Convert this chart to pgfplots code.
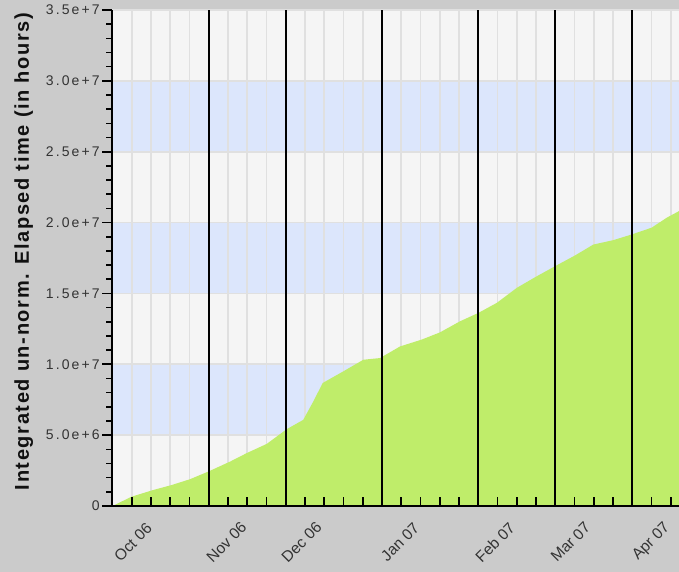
\documentclass[border=0pt]{standalone}
\usepackage{pgfplots}
\pgfplotsset{compat=1.18}
\usepackage{fontspec}
\setmainfont{Liberation Sans}
\newfontfamily\yticksfont[LetterSpace=15]{Liberation Sans}
\newfontfamily\xticksfont{Liberation Sans}
\newfontfamily\labfont[LetterSpace=8]{Liberation Sans}
\definecolor{outerbg}{RGB}{203,203,203}
\definecolor{plotbg}{RGB}{245,245,245}
\definecolor{band}{RGB}{220,230,252}
\definecolor{gridc}{RGB}{224,224,224}
\definecolor{fillg}{RGB}{191,237,106}
\definecolor{tickc}{RGB}{51,51,51}
\begin{document}
\begin{tikzpicture}
\fill[outerbg] (-112.5bp,-66bp) rectangle (566.5bp,506bp);
\begin{axis}[
  at={(0,0)}, anchor=south west, scale only axis,
  width=566.5bp, height=496bp,
  xmin=0, xmax=29.43, ymin=0, ymax=35000000,
  axis lines=left, axis line style={-, line width=2bp, black},
  axis on top=true,
  clip=false,
  tick style={draw=none},
  xtick={1.065,5.92,9.82,14.94,19.87,23.79,28.0},
  xticklabels={Oct 06,Nov 06,Dec 06,Jan 07,Feb 07,Mar 07,Apr 07},
  ytick={0,5000000,10000000,15000000,20000000,25000000,30000000,35000000},
  yticklabels={0,5.0e+6,1.0e+7,1.5e+7,2.0e+7,2.5e+7,3.0e+7,3.5e+7},
  scaled y ticks=false,
  xticklabel style={font={\xticksfont\fontsize{15.5bp}{17bp}\selectfont}, text=tickc, yshift=-34bp, rotate=45, anchor=center},
  yticklabel style={font={\yticksfont\fontsize{14bp}{16bp}\selectfont}, text=tickc, anchor=east, xshift=-10bp, inner sep=0.5bp},
]
% background and bands
\fill[plotbg] (axis cs:0,0) rectangle (axis cs:29.43,35000000);
\fill[band] (axis cs:0,5000000) rectangle (axis cs:29.43,10000000);
\fill[band] (axis cs:0,15000000) rectangle (axis cs:29.43,20000000);
\fill[band] (axis cs:0,25000000) rectangle (axis cs:29.43,30000000);
% grid
\pgfplotsinvokeforeach{1,...,29}{\draw[gridc, line width=1.6bp] (axis cs:#1,0) -- (axis cs:#1,35000000);}
\pgfplotsinvokeforeach{1,2,3,4,5,6,7}{\draw[gridc, line width=1.6bp] (axis cs:0,#1*5000000) -- (axis cs:29.43,#1*5000000);}
% data
\addplot[fill=fillg, draw=none] coordinates {
(0,0)
(0.997,660000)
(2.12,1130000)
(3.075,1480000)
(4.026,1890000)
(4.977,2430000)
(6.104,3130000)
(6.97,3730000)
(8.01,4380000)
(9.05,5420000)
(9.91,6080000)
(10.43,7370000)
(10.92,8680000)
(11.99,9500000)
(13.03,10320000)
(13.9,10440000)
(14.94,11260000)
(16.06,11740000)
(17.01,12250000)
(18.05,13030000)
(19.0,13620000)
(19.96,14330000)
(21.0,15390000)
(22.04,16210000)
(22.99,16920000)
(24.03,17680000)
(24.98,18450000)
(26.02,18760000)
(26.97,19160000)
(28.01,19640000)
(28.79,20340000)
(29.43,20810000)
} \closedcycle;
% month lines
\pgfplotsinvokeforeach{5,9,14,19,23,27}{\draw[black, line width=1.8bp] (axis cs:#1,0) -- (axis cs:#1,35000000);}
% x ticks (weekly, inside)
\pgfplotsinvokeforeach{1,...,29}{\draw[black, line width=1.6bp] (axis cs:#1,0) -- ++(0,9bp);}
% y ticks
\pgfplotsinvokeforeach{0,1,2,3,4,5,6,7}{\draw[black, line width=1.6bp] (axis cs:0,#1*5000000) -- ++(-10bp,0);}
\pgfplotsinvokeforeach{1,2,3,4,6,7,8,9,11,12,13,14,16,17,18,19,21,22,23,24,26,27,28,29,31,32,33,34}{\draw[black, line width=1.6bp] (axis cs:0,#1*1000000) -- ++(-6bp,0);}
\end{axis}
\node[rotate=90, anchor=base, text={rgb,255:red,17;green,17;blue,17}, font={\labfont\bfseries\fontsize{20bp}{22bp}\selectfont}, inner sep=0pt] at (-83.5bp,254.5bp) {Integrated un-norm. Elapsed time (in hours)};
\pgfresetboundingbox
\useasboundingbox (-112.5bp,-66bp) rectangle (566.5bp,506bp);
\end{tikzpicture}
\end{document}
